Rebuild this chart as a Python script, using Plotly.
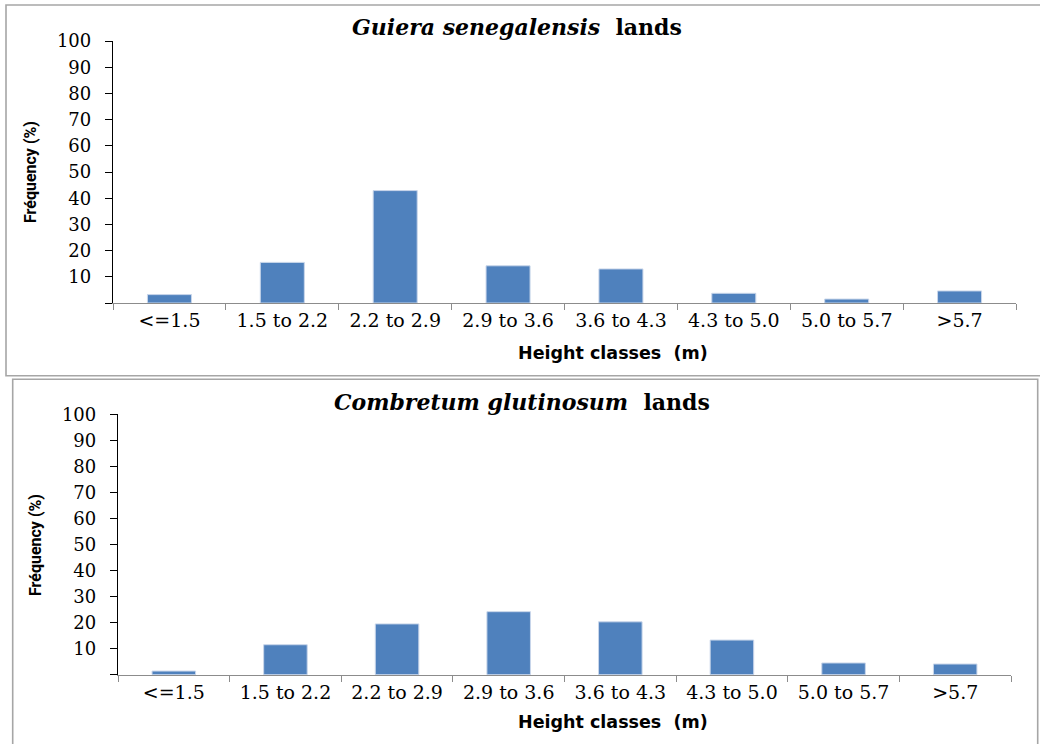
import plotly.graph_objects as go

categories = ["<=1.5", "1.5 to 2.2", "2.2 to 2.9", "2.9 to 3.6",
              "3.6 to 4.3", "4.3 to 5.0", "5.0 to 5.7", ">5.7"]
guiera_freq = [3.2, 15.5, 42.9, 14.2, 13.0, 3.7, 1.5, 4.6]
combretum_freq = [1.4, 11.5, 19.5, 24.2, 20.3, 13.3, 4.5, 4.1]
y_tick_vals = list(range(0, 101, 10))
y_tick_text = [""] + [str(v) for v in y_tick_vals[1:]]

W, H = 1040, 744
BAR_COLOR = "#4F81BD"
SERIF = "DejaVu Serif"

def px_x(v):
    return v / W

def px_y(v):
    return 1 - v / H

fig = go.Figure()
fig.add_trace(go.Bar(x=categories, y=guiera_freq, xaxis="x", yaxis="y",
                     width=0.39, marker=dict(color=BAR_COLOR, line=dict(color="#c9d6ea", width=1)),
                     showlegend=False))
fig.add_trace(go.Bar(x=categories, y=combretum_freq, xaxis="x2", yaxis="y2",
                     width=0.39, marker=dict(color=BAR_COLOR, line=dict(color="#c9d6ea", width=1)),
                     showlegend=False))

def xaxis_cfg(x0, x1, anchor):
    return dict(domain=[px_x(x0), px_x(x1)], anchor=anchor, type="category",
                automargin=False,
                showline=True, linecolor="#8c8c8c", linewidth=1.3,
                ticks="outside", tickson="boundaries", ticklen=6, tickcolor="#8c8c8c",
                tickwidth=1.3, showgrid=False, zeroline=False,
                tickfont=dict(family=SERIF, size=19, color="black"))

def yaxis_cfg(y_top, y_bot, anchor):
    return dict(domain=[px_y(y_bot), px_y(y_top)], anchor=anchor, range=[0, 100],
                automargin=False,
                tickvals=y_tick_vals, ticktext=y_tick_text,
                showline=True, linecolor="black", linewidth=1.3,
                ticks="outside", ticklen=7, tickcolor="black", tickwidth=1.3,
                showgrid=False, zeroline=False, ticklabelstandoff=10,
                tickfont=dict(family=SERIF, size=18, color="black"))

layout = dict(
    width=W, height=H, margin=dict(l=0, r=0, t=0, b=0, autoexpand=False),
    paper_bgcolor="white", plot_bgcolor="white",
    xaxis=xaxis_cfg(113, 1016, "y"),
    yaxis=yaxis_cfg(41, 303, "x"),
    xaxis2=xaxis_cfg(118, 1011, "y2"),
    yaxis2=yaxis_cfg(414.3, 674.7, "x2"),
)
fig.update_layout(**layout)

# chart borders
fig.add_shape(type="rect", xref="paper", yref="paper",
              x0=px_x(6), x1=px_x(1050), y0=px_y(375.7), y1=px_y(5),
              line=dict(color="#a6a6a6", width=1.6), layer="below")
fig.add_shape(type="rect", xref="paper", yref="paper",
              x0=px_x(12.7), x1=px_x(1037.7), y0=px_y(760), y1=px_y(379.3),
              line=dict(color="#a6a6a6", width=1.6), layer="below")

def ann(text, x, y, size, family, angle=0):
    fig.add_annotation(text=text, x=px_x(x), y=px_y(y), xref="paper", yref="paper",
                       showarrow=False, textangle=angle, xanchor="center", yanchor="middle",
                       font=dict(family=family, size=size, color="black"))

ann("<b><i>Guiera senegalensis</i>\u00a0 lands</b>", 517, 27, 22, SERIF)
ann("<b><i>Combretum glutinosum</i>\u00a0 lands</b>", 522, 402, 22, SERIF)
ann("<b>Height classes\u00a0 (m)</b>", 613, 353, 17.5, "DejaVu Sans")
ann("<b>Height classes\u00a0 (m)</b>", 613, 722, 17.5, "DejaVu Sans")
ann("<b>Fréquency (%)</b>", 30, 172, 16, "Roboto", angle=-90)
ann("<b>Fréquency (%)</b>", 35, 545, 16, "Roboto", angle=-90)

fig.write_html("out.html")
